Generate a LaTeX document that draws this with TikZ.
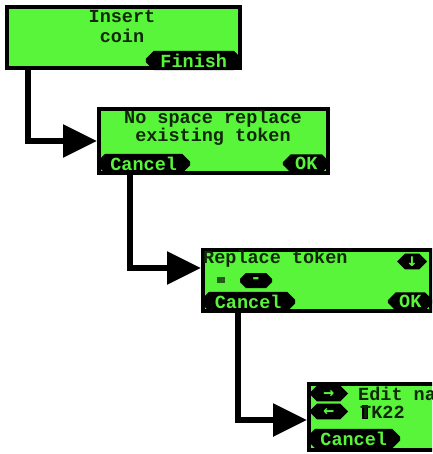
\documentclass[tikz,border=0pt]{standalone}
\usepackage{fontspec}
\newfontfamily\lcdfont{Liberation Mono}
\newfontfamily\lcdsym{DejaVu Sans Mono}
\usetikzlibrary{arrows.meta,shapes.misc}
\definecolor{lcdgreen}{RGB}{88,245,58}
\definecolor{lcdink}{RGB}{18,40,10}

\begin{document}
\begin{tikzpicture}[x=1pt,y=-1pt,
  font=\lcdfont\bfseries\fontsize{18.5}{20}\selectfont,
  screen/.style={draw=black,line width=4pt,fill=lcdgreen,inner sep=0pt},
  lcdtext/.style={text=lcdink,inner sep=0pt},
  softkey/.style={chamfered rectangle,chamfered rectangle xsep=5pt,fill=black,
    text=lcdgreen,inner sep=0pt,minimum height=17pt},
  arrowkey/.style={softkey,text height=10pt,text depth=0pt,
    font=\lcdsym\bfseries\fontsize{18}{18}\selectfont},
  flow/.style={line width=6pt,-{Triangle[length=34pt,width=32pt]}}]
 \useasboundingbox (0,0) rectangle (432,454);
 \clip (0,0) rectangle (432,454);
 % screens
 \node[screen,minimum width=233pt,minimum height=61pt] (ins) at (123.5,37.5) {};
 \node[screen,minimum width=229pt,minimum height=64pt] (nospace) at (213.5,141) {};
 \node[screen,minimum width=228pt,minimum height=61pt] (repl) at (317,280.5) {};
 \node[screen,minimum width=229pt,minimum height=66pt] (edit) at (423.5,417) {};
 % insert coin
 \node[lcdtext,anchor=base] (ins1) at (122,23) {Insert};
 \node[lcdtext,anchor=base] (ins2) at (122,43) {coin};
 \node[softkey,anchor=east,minimum width=96pt] (insfin) at (242,60.5) {Finish};
 % no space
 \node[lcdtext,anchor=base] (ns1) at (213,124) {No space replace};
 \node[lcdtext,anchor=base] (ns2) at (213,142) {existing token};
 \node[softkey,anchor=west,minimum width=93pt] (nscan) at (97,163.5) {Cancel};
 \node[softkey,anchor=east,minimum width=47pt] (nsok) at (330,163.5) {OK};
 % replace token
 \node[lcdtext,anchor=base west] (rp1) at (203,263) {Replace token};
 \node[arrowkey,minimum width=30pt,minimum height=14pt] (rpdown) at (412,261.5) {↓};
 \fill[lcdink!75!lcdgreen] (217,277) rectangle (225,283);
 \node[softkey,minimum width=32pt,minimum height=15pt] (rpslot) at (256,280.5) {-};
 \node[softkey,anchor=west,minimum width=94pt] (rpcan) at (201,301.5) {Cancel};
 \node[softkey,anchor=east,minimum width=45pt] (rpok) at (433,301.5) {OK};
 % edit name
 \node[arrowkey,anchor=west,minimum width=39pt,minimum height=14pt] (edright) at (309,393.5) {→};
 \node[lcdtext,anchor=base west] (ed1) at (358,400) {Edit name};
 \node[arrowkey,anchor=west,minimum width=39pt,minimum height=14pt] (edleft) at (309,411.5) {←};
 \fill[black] (362,405) rectangle (368,419);
 \node[lcdtext,anchor=base west] (ed2) at (360,418) {TK22};
 \node[softkey,anchor=west,minimum width=93pt] (edcan) at (307,438.5) {Cancel};
 % connectors
 \draw[flow] ([xshift=23pt]ins.south west) |- (nospace.west);
 \draw[flow] ([xshift=33pt]nospace.south west) |- ([yshift=12.5pt]repl.west);
 \draw[flow] ([xshift=37pt]repl.south west) |- ([yshift=-3pt]edit.west);
\end{tikzpicture}
\end{document}
